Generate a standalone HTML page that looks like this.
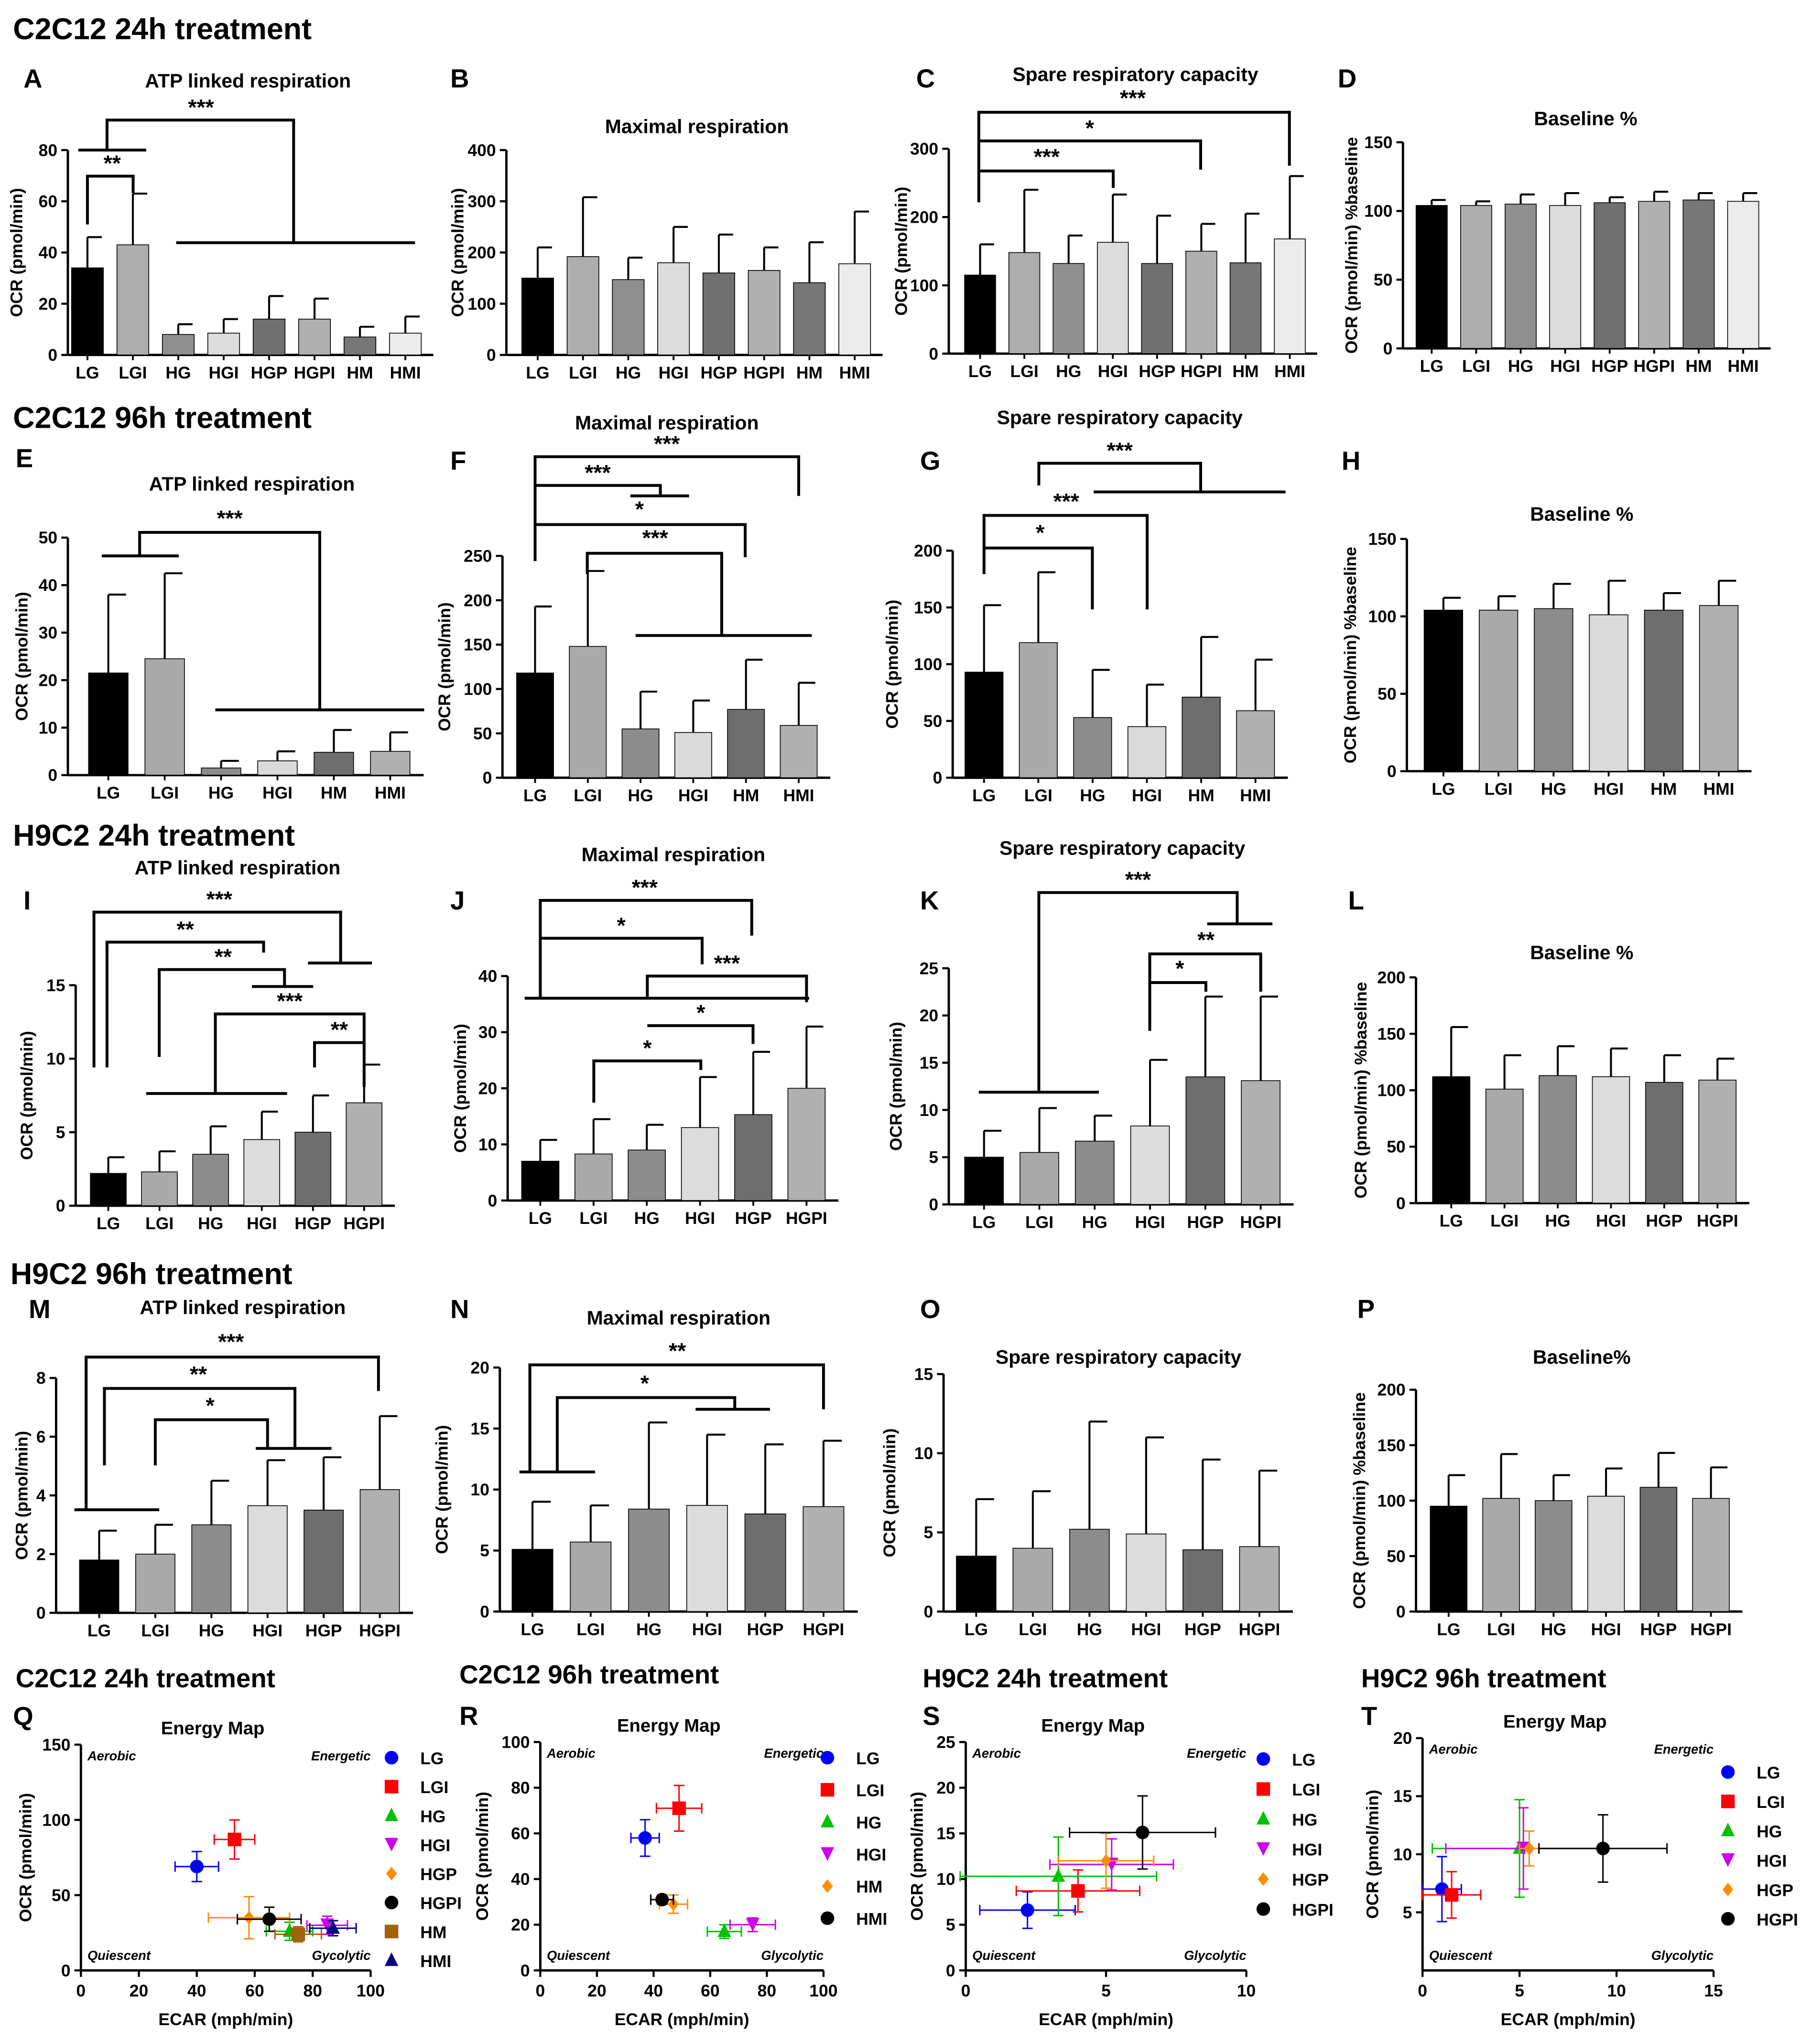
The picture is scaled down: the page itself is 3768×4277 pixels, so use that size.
<!DOCTYPE html>
<html><head><meta charset="utf-8"><style>
html,body{margin:0;padding:0;background:#fff;}
svg{display:block;}
text{font-family:"Liberation Sans",sans-serif;font-weight:bold;fill:#000;}
.n{font-family:"Liberation Sans Narrow","Liberation Sans",sans-serif;}
</style></head><body>
<svg id="fig" xmlns="http://www.w3.org/2000/svg" width="3768" height="4277" viewBox="0 0 1380 1566.4"></svg>
<script>
// ---------- DATA ----------
const A_cats=["LG","LGI","HG","HGI","HGP","HGPI","HM","HMI"];
const A_vals=[34,43,8,8.5,14,14,7,8.5];
const A_errs=[46,63,12,14,23,22,11,15];
const B_cats=["LG","LGI","HG","HGI","HGP","HGPI","HM","HMI"];
const B_vals=[150,192,147,180,160,165,141,178];
const B_errs=[210,308,190,250,235,210,220,280];
const C_cats=["LG","LGI","HG","HGI","HGP","HGPI","HM","HMI"];
const C_vals=[115,148,132,163,132,150,133,168];
const C_errs=[160,240,173,233,202,190,205,260];
const D_cats=["LG","LGI","HG","HGI","HGP","HGPI","HM","HMI"];
const D_vals=[104,104,105,104,106,107,108,107];
const D_errs=[108,107,112,113,110,114,113,113];
const E_cats=["LG","LGI","HG","HGI","HM","HMI"];
const E_vals=[21.5,24.5,1.5,3,4.8,5];
const E_errs=[38,42.5,3,5,9.5,9];
const F_cats=["LG","LGI","HG","HGI","HM","HMI"];
const F_vals=[118,148,55,51,77,59];
const F_errs=[193,233,97,87,133,107];
const G_cats=["LG","LGI","HG","HGI","HM","HMI"];
const G_vals=[93,119,53,45,71,59];
const G_errs=[152,181,95,82,124,104];
const H_cats=["LG","LGI","HG","HGI","HM","HMI"];
const H_vals=[104,104,105,101,104,107];
const H_errs=[112,113,121,123,115,123];
const I_cats=["LG","LGI","HG","HGI","HGP","HGPI"];
const I_vals=[2.2,2.3,3.5,4.5,5,7];
const I_errs=[3.3,3.7,5.4,6.4,7.5,9.6];
const J_cats=["LG","LGI","HG","HGI","HGP","HGPI"];
const J_vals=[7,8.3,9,13,15.3,20];
const J_errs=[10.8,14.5,13.5,22,26.5,31];
const K_cats=["LG","LGI","HG","HGI","HGP","HGPI"];
const K_vals=[5,5.5,6.7,8.3,13.5,13.1];
const K_errs=[7.8,10.2,9.4,15.3,22,22];
const L_cats=["LG","LGI","HG","HGI","HGP","HGPI"];
const L_vals=[112,101,113,112,107,109];
const L_errs=[156,131,139,137,131,128];
const M_cats=["LG","LGI","HG","HGI","HGP","HGPI"];
const M_vals=[1.8,2,3,3.65,3.5,4.2];
const M_errs=[2.8,3,4.5,5.2,5.3,6.7];
const N_cats=["LG","LGI","HG","HGI","HGP","HGPI"];
const N_vals=[5.1,5.7,8.4,8.7,8,8.6];
const N_errs=[9,8.7,15.5,14.5,13.7,14];
const O_cats=["LG","LGI","HG","HGI","HGP","HGPI"];
const O_vals=[3.5,4,5.2,4.9,3.9,4.1];
const O_errs=[7.1,7.6,12,11,9.6,8.9];
const P_cats=["LG","LGI","HG","HGI","HGP","HGPI"];
const P_vals=[95,102,100,104,112,102];
const P_errs=[123,142,123,129,143,130];
// energy maps
const Q_groups=["LG","LGI","HG","HGI","HGP","HGPI","HM","HMI"];
const Q_ecar=[40,53,72,85,58,65,75,87];
const Q_ocr=[69,87,26,30,35,34,24,28];
const Q_ex=[7.5,7,8,7,14,11,8,8];
const Q_ey=[10,13,6,6,14,8,5,5];
const R_groups=["LG","LGI","HG","HGI","HM","HMI"];
const R_ecar=[37,49,65,75,47,43];
const R_ocr=[58,71,17,20,29,31];
const R_ex=[5,8,6,8,5,4];
const R_ey=[8,10,3,3,4,2];
const S_groups=["LG","LGI","HG","HGI","HGP","HGPI"];
const S_ecar=[2.2,4,3.3,5.2,5,6.3];
const S_ocr=[6.6,8.7,10.3,11.6,12,15.1];
const S_ex=[1.7,2.2,3.5,2.2,1.7,2.6];
const S_ey=[2,2.3,4.3,2.8,3,4];
const T_groups=["LG","LGI","HG","HGI","HGP","HGPI"];
const T_ecar=[1,1.5,5,5.2,5.5,9.3];
const T_ocr=[7,6.5,10.5,10.5,10.5,10.5];
const T_ex=[1,1.5,4.5,4,0.5,3.3];
const T_ey=[2.8,2,4.2,3.5,1.5,2.9];

// ---------- HELPERS ----------
const svg=document.getElementById('fig');
const NS='http://www.w3.org/2000/svg';
function mk(tag,attrs,name,parent){
  const el=document.createElementNS(NS,tag);
  for(const k in attrs) el.setAttribute(k,attrs[k]);
  
  
  (parent||svg).appendChild(el);
  return el;
}
function txt(x,y,s,size,name,opt){
  opt=opt||{};
  const t=mk('text',{x:x,y:y,'font-size':size,'text-anchor':opt.anchor||'start'},name,opt.parent);
  if(opt.cls) t.setAttribute('class',opt.cls);
  if(opt.italic) t.setAttribute('font-style','italic');
  if(opt.rot) t.setAttribute('transform','rotate(-90 '+x+' '+y+')');
  if(opt.fill) t.setAttribute('fill',opt.fill);
  t.textContent=s;
  return t;
}
function ln(x1,y1,x2,y2,name,w,col,parent){
  return mk('line',{x1:x1,y1:y1,x2:x2,y2:y2,stroke:col||'#000','stroke-width':w||1.6},name,parent);
}
function path(d,name){return mk('path',{d:d,fill:'none',stroke:'#000','stroke-width':2.2},name);}

const COL8={LG:'#000000',LGI:'#adadad',HG:'#8f8f8f',HGI:'#dcdcdc',HGP:'#707070',HGPI:'#b0b0b0',HM:'#777777',HMI:'#ececec'};
const COL6b={LG:'#000000',LGI:'#a9a9a9',HG:'#8c8c8c',HGI:'#dadada',HM:'#6e6e6e',HMI:'#b0b0b0'};

function barChart(id,cfg,cats,vals,errs,cols){
  const g=mk('g',{},'panel-'+id);
  const ys=v=>cfg.y0-v/cfg.ymax*(cfg.y0-cfg.yTop);
  const xs=i=>cfg.x0+i*cfg.step;
  const bw=cfg.step*0.7;
  const xEnd=xs(cats.length-1)+cfg.step*0.5+4;
  ln(cfg.ax,ys(0),cfg.ax,cfg.yTop,'y-axis',1.8,'#000',g);
  ln(cfg.ax,ys(0),xEnd,ys(0),'x-axis',1.8,'#000',g);
  for(let t=0;t<=cfg.ymax+1e-9;t+=cfg.tstep){
    ln(cfg.ax-5,ys(t),cfg.ax,ys(t),'y-tick',1.6,'#000',g);
    txt(cfg.ax-8,ys(t)+4.5,String(t),13,'y-tick-label',{anchor:'end',parent:g,cls:'n'});
  }
  cats.forEach((c,i)=>{
    const x=xs(i);
    mk('rect',{x:x-bw/2,y:ys(vals[i]),width:bw,height:ys(0)-ys(vals[i]),fill:cols[c],stroke:'#000','stroke-width':0.6},'bar-'+c.toLowerCase(),g);
    ln(x,ys(vals[i]),x,ys(errs[i]),'error-bar-'+c.toLowerCase(),1.5,'#000',g);
    ln(x,ys(errs[i]),x+bw*0.45,ys(errs[i]),'error-cap-'+c.toLowerCase(),1.5,'#000',g);
    ln(x,ys(0),x,ys(0)+4,'x-tick',1.4,'#000',g);
    txt(x,ys(0)+18,c,13,'x-label-'+c.toLowerCase(),{anchor:'middle',parent:g});
  });
  txt(cfg.tx,cfg.ty,cfg.title,15,'chart-title',{anchor:'middle',parent:g});
  txt(cfg.lx,cfg.ly,cfg.letter,20,'panel-letter',{parent:g});
  txt(cfg.ylx,(cfg.y0+cfg.yTop)/2,cfg.ylab||'OCR (pmol/min)',13,'y-axis-title',{anchor:'middle',rot:true,parent:g});
}

txt(10,30,'C2C12 24h treatment',23,'section-title-c2c12-24h');
txt(10,328,'C2C12 96h treatment',23,'section-title-c2c12-96h');
txt(10,648,'H9C2 24h treatment',23,'section-title-h9c2-24h');
txt(8,984,'H9C2 96h treatment',23,'section-title-h9c2-96h');

const BL='OCR (pmol/min) %baseline';
barChart('A',{ax:52,y0:272,yTop:115,ymax:80,tstep:20,x0:67,step:34.8,title:'ATP linked respiration',tx:190,ty:67,letter:'A',lx:18,ly:67,ylx:17},A_cats,A_vals,A_errs,COL8);
barChart('B',{ax:388,y0:272,yTop:115,ymax:400,tstep:100,x0:412,step:34.7,title:'Maximal respiration',tx:534,ty:102,letter:'B',lx:345,ly:67,ylx:355},B_cats,B_vals,B_errs,COL8);
barChart('C',{ax:727,y0:271,yTop:114,ymax:300,tstep:100,x0:751,step:33.9,title:'Spare respiratory capacity',tx:870,ty:62,letter:'C',lx:702,ly:67,ylx:695},C_cats,C_vals,C_errs,COL8);
barChart('D',{ax:1075,y0:267,yTop:109,ymax:150,tstep:50,x0:1097,step:34.1,title:'Baseline %',tx:1215,ty:96,letter:'D',lx:1025,ly:67,ylx:1040,ylab:BL},D_cats,D_vals,D_errs,COL8);

barChart('E',{ax:52,y0:594,yTop:412,ymax:50,tstep:10,x0:83,step:43.2,title:'ATP linked respiration',tx:193,ty:376,letter:'E',lx:12,ly:358,ylx:21},E_cats,E_vals,E_errs,COL6b);
barChart('F',{ax:385,y0:596,yTop:426,ymax:250,tstep:50,x0:410,step:40.4,title:'Maximal respiration',tx:511,ty:329,letter:'F',lx:345,ly:360,ylx:345},F_cats,F_vals,F_errs,COL6b);
barChart('G',{ax:730,y0:596,yTop:422,ymax:200,tstep:50,x0:754,step:41.6,title:'Spare respiratory capacity',tx:858,ty:325,letter:'G',lx:705,ly:360,ylx:688},G_cats,G_vals,G_errs,COL6b);
barChart('H',{ax:1078,y0:591,yTop:413,ymax:150,tstep:50,x0:1106,step:42.2,title:'Baseline %',tx:1212,ty:399,letter:'H',lx:1028,ly:360,ylx:1039,ylab:BL},H_cats,H_vals,H_errs,COL6b);

const COLH={LG:'#000000',LGI:'#a9a9a9',HG:'#8c8c8c',HGI:'#dcdcdc',HGP:'#6e6e6e',HGPI:'#b0b0b0'};
barChart('I',{ax:58,y0:924,yTop:755,ymax:15,tstep:5,x0:83,step:39.2,title:'ATP linked respiration',tx:182,ty:670,letter:'I',lx:18,ly:697,ylx:25},I_cats,I_vals,I_errs,COLH);
barChart('J',{ax:389,y0:920,yTop:748,ymax:40,tstep:10,x0:414,step:40.8,title:'Maximal respiration',tx:516,ty:660,letter:'J',lx:345,ly:697,ylx:357},J_cats,J_vals,J_errs,COLH);
barChart('K',{ax:727,y0:923,yTop:742,ymax:25,tstep:5,x0:754,step:42.4,title:'Spare respiratory capacity',tx:860,ty:655,letter:'K',lx:705,ly:697,ylx:691},K_cats,K_vals,K_errs,COLH);
barChart('L',{ax:1085,y0:922,yTop:749,ymax:200,tstep:50,x0:1112,step:40.8,title:'Baseline %',tx:1212,ty:735,letter:'L',lx:1033,ly:697,ylx:1047,ylab:BL},L_cats,L_vals,L_errs,COLH);

barChart('M',{ax:43,y0:1236,yTop:1056,ymax:8,tstep:2,x0:76,step:43,title:'ATP linked respiration',tx:186,ty:1007,letter:'M',lx:22,ly:1010,ylx:21},M_cats,M_vals,M_errs,COLH);
barChart('N',{ax:383,y0:1235,yTop:1048,ymax:20,tstep:5,x0:408,step:44.6,title:'Maximal respiration',tx:520,ty:1015,letter:'N',lx:345,ly:1010,ylx:343},N_cats,N_vals,N_errs,COLH);
barChart('O',{ax:723,y0:1235,yTop:1053,ymax:15,tstep:5,x0:748,step:43.4,title:'Spare respiratory capacity',tx:857,ty:1045,letter:'O',lx:705,ly:1010,ylx:686},O_cats,O_vals,O_errs,COLH);
barChart('P',{ax:1085,y0:1235,yTop:1065,ymax:200,tstep:50,x0:1110,step:40.2,title:'Baseline%',tx:1212,ty:1045,letter:'P',lx:1040,ly:1010,ylx:1046,ylab:BL},P_cats,P_vals,P_errs,COLH);

function star(x,y,s){txt(x,y,s,17,'significance-label',{anchor:'middle'});}
star(154,88,'***');path('M60,115H112M82,115V92H225V186M135,186H318','bracket-a1');
star(86,131,'**');path('M67,172V135H102V148','bracket-a2');
star(868,81,'***');path('M750,155V86H988V127','bracket-c1');
star(835,104,'*');path('M750,108H920V130','bracket-c2');
star(802,126,'***');path('M750,131H853V144','bracket-c3');
star(176,403,'***');path('M78,426H137M107,426V408H245V544M165,544H325','bracket-e1');
star(511,346,'***');path('M410,430V350H612V380','bracket-f1');
star(458,368,'***');path('M410,372H506V380M483,380H528','bracket-f2');
star(490,396,'*');path('M410,402H571V427','bracket-f3');
star(502,418,'***');path('M450,440V424H553V487M487,487H622','bracket-f4');
star(858,351,'***');path('M796,372V355H920V377M838,377H985','bracket-g1');
star(817,390,'***');path('M754,440V395H879V467','bracket-g2');
star(797,414,'*');path('M754,420H837V467','bracket-g3');
star(168,695,'***');path('M72,818V699H261V738M236,738H285','bracket-i1');
star(142,718,'**');path('M82,818V722H202V730','bracket-i2');
star(171,739,'**');path('M122,810V743H218V756M193,756H240','bracket-i3');
star(222,773,'***');path('M165,838V777H279V833M112,838H220','bracket-i4');
star(260,795,'**');path('M241,818V799H279','bracket-i5');
star(494,686,'***');path('M414,765V690H576V717','bracket-j1');
star(476,715,'*');path('M414,719H538V739','bracket-j2');
star(557,744,'***');path('M496,765V748H618V768M402,765H620','bracket-j3');
star(537,782,'*');path('M496,786H577V800','bracket-j4');
star(496,809,'*');path('M455,845V813H537V820','bracket-j5');
star(872,680,'***');path('M750,837H842M796,837V684H948V708M925,708H975','bracket-k1');
star(924,726,'**');path('M881,790V731H966V760','bracket-k2');
star(904,748,'*');path('M881,753H924V760','bracket-k3');
star(177,1034,'***');path('M57,1157H122M66,1157V1040H290V1066','bracket-m1');
star(152,1059,'**');path('M80,1123V1064H226V1110M196,1110H254','bracket-m2');
star(161,1083,'*');path('M119,1123V1088H205V1110','bracket-m3');
star(519,1041,'**');path('M398,1128H456M406,1128V1046H631V1080','bracket-n1');
star(494,1066,'*');path('M427,1128V1071H563V1080M533,1080H590','bracket-n2');

// ---------- ENERGY MAPS ----------
const ECOL={LG:'#0000ff',LGI:'#ff0000',HG:'#00c000',HGI:'#cc00ee',HGP:'#ff8c00',HGPI:'#000000',HM:'#a0620a',HMI:'#000080'};
function marker(g,type,x,y,col,name){
  const s=5.2;
  let el;
  if(type==='circle') el=mk('circle',{cx:x,cy:y,r:s},name,g);
  else if(type==='square') el=mk('rect',{x:x-s,y:y-s,width:2*s,height:2*s},name,g);
  else if(type==='up') el=mk('path',{d:`M${x},${y-s-1}L${x+s},${y+s-1}L${x-s},${y+s-1}Z`},name,g);
  else if(type==='down') el=mk('path',{d:`M${x},${y+s}L${x+s},${y-s}L${x-s},${y-s}Z`},name,g);
  else el=mk('path',{d:`M${x},${y-s}L${x+s*0.8},${y}L${x},${y+s}L${x-s*0.8},${y}Z`},name,g);
  el.setAttribute('fill',col);
}
const MK={LG:'circle',LGI:'square',HG:'up',HGI:'down',HGP:'diamond',HGPI:'circle',HM:'square',HMI:'up'};
function energyMap(id,cfg,groups,ecar,ocr,ex,ey,colmap,mkmap){
  const g=mk('g',{},'energy-map-'+id);
  const xs=v=>cfg.x0+v/cfg.xmax*(cfg.x1-cfg.x0);
  const ys=v=>cfg.y0-v/cfg.ymax*(cfg.y0-cfg.y1);
  ln(cfg.x0,cfg.y0,cfg.x0,cfg.y1,'y-axis',1.8,'#000',g);
  ln(cfg.x0,cfg.y0,cfg.x1,cfg.y0,'x-axis',1.8,'#000',g);
  cfg.xt.forEach(t=>{ln(xs(t),cfg.y0,xs(t),cfg.y0+5,'x-tick',1.6,'#000',g);txt(xs(t),cfg.y0+20,String(t),13,'x-tick-label',{anchor:'middle',parent:g,cls:'n'});});
  cfg.yt.forEach(t=>{ln(cfg.x0-5,ys(t),cfg.x0,ys(t),'y-tick',1.6,'#000',g);txt(cfg.x0-8,ys(t)+4.5,String(t),13,'y-tick-label',{anchor:'end',parent:g,cls:'n'});});
  txt((cfg.x0+cfg.x1)/2,cfg.y0+42,'ECAR (mph/min)',13,'x-axis-title',{anchor:'middle',parent:g});
  txt(cfg.ylx,(cfg.y0+cfg.y1)/2,'OCR (pmol/min)',13,'y-axis-title',{anchor:'middle',rot:true,parent:g});
  txt((cfg.x0+cfg.x1)/2-10,cfg.y1-8,'Energy Map',14,'chart-title',{anchor:'middle',parent:g});
  txt(cfg.x0+5,cfg.y1+12,'Aerobic',10,'quadrant-aerobic',{italic:true,parent:g});
  txt(cfg.x1,cfg.y1+12,'Energetic',10,'quadrant-energetic',{italic:true,anchor:'end',parent:g});
  txt(cfg.x0+5,cfg.y0-8,'Quiescent',10,'quadrant-quiescent',{italic:true,parent:g});
  txt(cfg.x1,cfg.y0-8,cfg.glyc,10,'quadrant-glycolytic',{italic:true,anchor:'end',parent:g});
  txt(cfg.sx,cfg.sy,cfg.section,20,'section-title',{parent:g});
  txt(cfg.lx,cfg.ly,cfg.letter,20,'panel-letter',{parent:g});
  groups.forEach((k,i)=>{
    const c=colmap[k];const n=k.toLowerCase();const mt=mkmap[k];
    const x=xs(ecar[i]),y=ys(ocr[i]);
    const xl=xs(ecar[i]-ex[i]),xr=xs(ecar[i]+ex[i]),yl=ys(ocr[i]-ey[i]),yh=ys(ocr[i]+ey[i]);
    ln(xl,y,xr,y,'x-error-'+n,1.1,c,g);ln(xl,y-4,xl,y+4,'x-error-cap-'+n,1.1,c,g);ln(xr,y-4,xr,y+4,'x-error-cap-'+n,1.1,c,g);
    ln(x,yl,x,yh,'y-error-'+n,1.1,c,g);ln(x-4,yl,x+4,yl,'y-error-cap-'+n,1.1,c,g);ln(x-4,yh,x+4,yh,'y-error-cap-'+n,1.1,c,g);
    marker(g,mt,x,y,c,'point-'+n);
    const ly=cfg.legY+i*cfg.legStep;
    marker(g,mt,cfg.legX,ly,c,'legend-marker-'+n);
    txt(cfg.legX+22,ly+5,k,13,'legend-entry-'+n,{parent:g,cls:'n'});
  });
}
const R_COL=Object.assign({},ECOL,{HM:'#ff8c00',HMI:'#000000'});
const R_MK=Object.assign({},MK,{HM:'diamond',HMI:'circle'});
energyMap('Q',{x0:62,x1:284,y0:1510,y1:1337,xmax:100,ymax:150,xt:[0,20,40,60,80,100],yt:[0,50,100,150],ylx:24,glyc:'Gycolytic',section:'C2C12 24h treatment',sx:12,sy:1293,letter:'Q',lx:10,ly:1322,legX:300,legY:1347,legStep:22.2},Q_groups,Q_ecar,Q_ocr,Q_ex,Q_ey,ECOL,MK);
energyMap('R',{x0:414,x1:631,y0:1510,y1:1335,xmax:100,ymax:100,xt:[0,20,40,60,80,100],yt:[0,20,40,60,80,100],ylx:374,glyc:'Glycolytic',section:'C2C12 96h treatment',sx:352,sy:1290,letter:'R',lx:352,ly:1322,legX:634,legY:1347,legStep:24.6},R_groups,R_ecar,R_ocr,R_ex,R_ey,R_COL,R_MK);
energyMap('S',{x0:740,x1:955,y0:1510,y1:1335,xmax:10,ymax:25,xt:[0,5,10],yt:[0,5,10,15,20,25],ylx:707,glyc:'Glycolytic',section:'H9C2 24h treatment',sx:707,sy:1293,letter:'S',lx:707,ly:1322,legX:968,legY:1348,legStep:23},S_groups,S_ecar,S_ocr,S_ex,S_ey,ECOL,MK);
energyMap('T',{x0:1090,x1:1313,y0:1510,y1:1332,xmax:15,ymax:20,xt:[0,5,10,15],yt:[5,10,15,20],ylx:1056,glyc:'Glycolytic',section:'H9C2 96h treatment',sx:1043,sy:1293,letter:'T',lx:1043,ly:1322,legX:1324,legY:1358,legStep:22.5},T_groups,T_ecar,T_ocr,T_ex,T_ey,ECOL,MK);
</script>
</body></html>
